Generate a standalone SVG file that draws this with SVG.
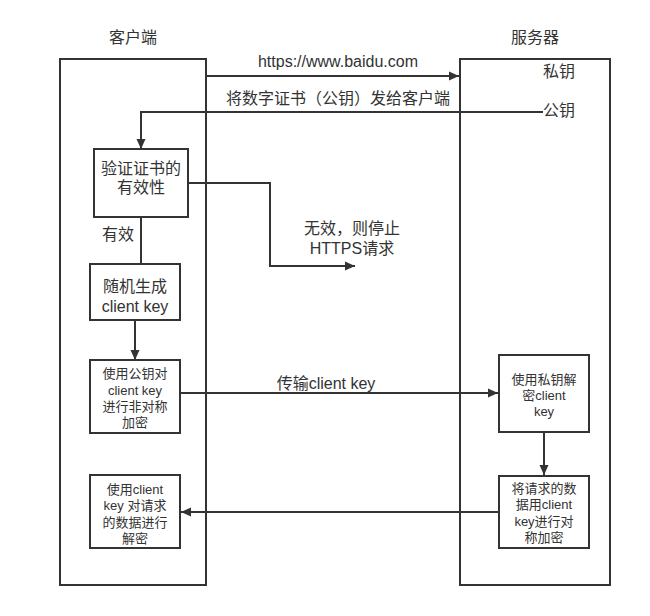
<svg xmlns="http://www.w3.org/2000/svg" width="650" height="616" viewBox="0 0 650 616">
<style>
text{font-family:"Liberation Sans","Noto Sans CJK SC",sans-serif;fill:#333;text-anchor:middle}
.t{font-size:16px}
.s{font-size:13px}
.b{fill:#fff;stroke:#333;stroke-width:2}
.c{fill:none;stroke:#333;stroke-width:2}
</style>
<defs>
<marker id="ah" viewBox="0 0 10 10" refX="10" refY="5" markerWidth="10" markerHeight="10" markerUnits="userSpaceOnUse" orient="auto"><path d="M0,0.5 L10,5 L0,9.5 Z" fill="#333"/></marker>
</defs>
<rect width="650" height="616" fill="#fff"/>
<g id="client">
<rect class="b" x="60" y="59" width="146" height="526"/>
<text class="t" x="133" y="43">客户端</text>
</g>
<g id="server">
<rect class="b" x="460" y="59" width="150" height="526"/>
<text class="t" x="535" y="43">服务器</text>
<text class="t" x="559" y="77">私钥</text>
<text class="t" x="559" y="116">公钥</text>
</g>
<g id="connectors">
<path class="c" d="M206,76 H459" marker-end="url(#ah)"/>
<path class="c" d="M543,112 H141 V149" marker-end="url(#ah)"/>
<path class="c" d="M188,183 H270 V266 H355" marker-end="url(#ah)"/>
<path class="c" d="M141,217 V264"/>
<path class="c" d="M135,320 V360" marker-end="url(#ah)"/>
<path class="c" d="M180,393 H498" marker-end="url(#ah)"/>
<path class="c" d="M544,432 V475" marker-end="url(#ah)"/>
<path class="c" d="M499,512 H181" marker-end="url(#ah)"/>
<text class="t" x="338" y="67">https://www.baidu.com</text>
<text class="t" x="338" y="104">将数字证书（公钥）发给客户端</text>
<text class="t" x="352" y="234">无效，则停止</text>
<text class="t" x="352" y="254">HTTPS请求</text>
<text class="t" x="118" y="240">有效</text>
<text class="t" x="326" y="389">传输client key</text>
</g>
<g id="verify">
<rect class="b" x="94" y="149" width="94" height="68"/>
<text class="t" x="141" y="174">验证证书的</text>
<text class="t" x="141" y="193">有效性</text>
</g>
<g id="genkey">
<rect class="b" x="90" y="264" width="90" height="56"/>
<text class="t" x="135" y="292">随机生成</text>
<text class="t" x="135" y="312">client key</text>
</g>
<g id="encrypt">
<rect class="b" x="90" y="360" width="90" height="73"/>
<text class="s" x="135" y="378">使用公钥对</text>
<text class="s" x="135" y="395">client key</text>
<text class="s" x="135" y="411">进行非对称</text>
<text class="s" x="135" y="427">加密</text>
</g>
<g id="decrypt-key">
<rect class="b" x="499" y="355" width="90" height="77"/>
<text class="s" x="544" y="384">使用私钥解</text>
<text class="s" x="544" y="400">密client</text>
<text class="s" x="544" y="416">key</text>
</g>
<g id="sym-encrypt">
<rect class="b" x="499" y="476" width="90" height="72"/>
<text class="s" x="544" y="493">将请求的数</text>
<text class="s" x="544" y="509">据用client</text>
<text class="s" x="544" y="526">key进行对</text>
<text class="s" x="544" y="542">称加密</text>
</g>
<g id="decrypt-data">
<rect class="b" x="90" y="475" width="90" height="73"/>
<text class="s" x="135" y="494">使用client</text>
<text class="s" x="135" y="510">key 对请求</text>
<text class="s" x="135" y="527">的数据进行</text>
<text class="s" x="135" y="543">解密</text>
</g>
</svg>
